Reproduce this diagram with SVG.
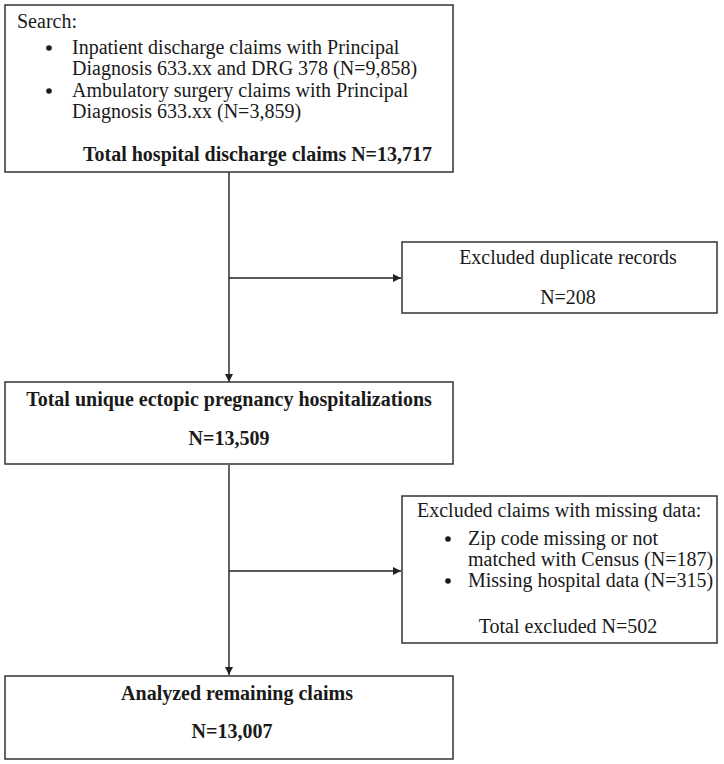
<svg xmlns="http://www.w3.org/2000/svg" width="724" height="764" viewBox="0 0 724 764">
<style>
.box{fill:#fff;stroke:#333;stroke-width:1.5}
.t{font-family:"Liberation Serif","Times New Roman",serif;font-size:20px;fill:#1a1a1a}
.b{font-weight:bold}
.m{text-anchor:middle}
.ln{stroke:#222;stroke-width:1.4;fill:none}
</style>
<defs>
<marker id="ah" viewBox="0 0 10 10" refX="10" refY="5" markerWidth="8" markerHeight="8" markerUnits="userSpaceOnUse" orient="auto">
<path d="M0,0 L10,5 L0,10 z" fill="#222"/>
</marker>
</defs>
<rect width="724" height="764" fill="#fff"/>
<g id="connectors">
<line class="ln" x1="229" y1="172" x2="229" y2="382" marker-end="url(#ah)"/>
<line class="ln" x1="229" y1="278" x2="401" y2="278" marker-end="url(#ah)"/>
<line class="ln" x1="229" y1="465" x2="229" y2="675" marker-end="url(#ah)"/>
<line class="ln" x1="229" y1="571" x2="401" y2="571" marker-end="url(#ah)"/>
</g>
<g id="search">
<rect class="box" x="5" y="5" width="448" height="167"/>
<text class="t" x="17" y="28">Search:</text>
<circle cx="49" cy="48" r="2.8" fill="#1a1a1a"/>
<text class="t" x="72" y="54">Inpatient discharge claims with Principal</text>
<text class="t" x="72" y="75">Diagnosis 633.xx and DRG 378 (N=9,858)</text>
<circle cx="49" cy="91" r="2.8" fill="#1a1a1a"/>
<text class="t" x="72" y="97">Ambulatory surgery claims with Principal</text>
<text class="t" x="72" y="118">Diagnosis 633.xx (N=3,859)</text>
<text class="t b" x="83" y="161">Total hospital discharge claims N=13,717</text>
</g>
<g id="duplicates">
<rect class="box" x="402" y="242" width="315" height="71"/>
<text class="t m" x="568" y="264">Excluded duplicate records</text>
<text class="t m" x="568" y="304">N=208</text>
</g>
<g id="unique">
<rect class="box" x="5" y="382" width="448" height="82"/>
<text class="t b m" x="229" y="406">Total unique ectopic pregnancy hospitalizations</text>
<text class="t b m" x="229" y="445">N=13,509</text>
</g>
<g id="missing">
<rect class="box" x="402" y="496" width="315" height="147"/>
<text class="t" x="417" y="517">Excluded claims with missing data:</text>
<circle cx="448" cy="539" r="2.8" fill="#1a1a1a"/>
<text class="t" x="468" y="545">Zip code missing or not</text>
<text class="t" x="468" y="566">matched with Census (N=187)</text>
<circle cx="448" cy="581" r="2.8" fill="#1a1a1a"/>
<text class="t" x="468" y="587">Missing hospital data (N=315)</text>
<text class="t m" x="568" y="633">Total excluded N=502</text>
</g>
<g id="analyzed">
<rect class="box" x="5" y="676" width="448" height="83"/>
<text class="t b m" x="237" y="700">Analyzed remaining claims</text>
<text class="t b m" x="232" y="738">N=13,007</text>
</g>
</svg>
